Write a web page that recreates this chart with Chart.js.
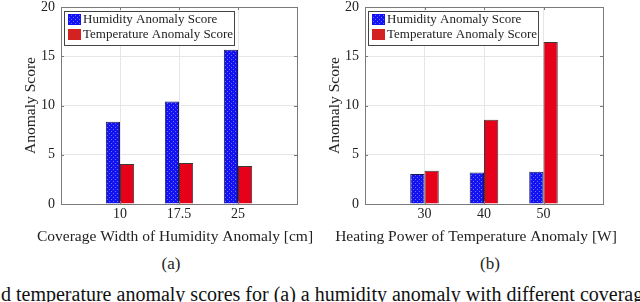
<!DOCTYPE html>
<html>
<head>
<meta charset="utf-8">
<script src="https://cdn.jsdelivr.net/npm/chart.js@4"></script>
<style>
  body { margin: 0; width: 640px; height: 302px; overflow: hidden; background: #fff; position: relative;
         font-family: "Liberation Serif", "Times New Roman", serif; color: #222; }
  canvas { position: absolute; top: 0; }
  #chartA { left: 0; }
  #chartB { left: 320px; }
  .sub { position: absolute; top: 255px; width: 40px; text-align: center; font-size: 17px; line-height: 17px; }
  #caption { position: absolute; left: 1px; top: 284px; font-size: 20px; line-height: 20px; white-space: nowrap; color: #111; }
</style>
</head>
<body>
<canvas id="chartA" width="320" height="250"></canvas>
<canvas id="chartB" width="320" height="250"></canvas>
<div class="sub" style="left:151px">(a)</div>
<div class="sub" style="left:470px">(b)</div>
<div id="caption">d temperature anomaly scores for (a) a humidity anomaly with different coverage</div>
<script>
// (a) humidity anomaly width sweep
const widthLabels = ['10', '17.5', '25'];
const humidityA = [8.35, 10.4, 15.65];
const temperatureA = [4.05, 4.15, 3.85];

// (b) heating power sweep
const powerLabels = ['30', '40', '50'];
const humidityB = [3.05, 3.2, 3.28];
const temperatureB = [3.38, 8.55, 16.45];

const seriesNames = ['Humidity Anomaly Score', 'Temperature Anomaly Score'];

const serif = '"Liberation Serif", "Times New Roman", serif';
Chart.defaults.font.family = serif;
Chart.defaults.color = '#222';

const axisGray = '#7a7a7a';
const gridGray = '#e6e6e6';

function dotPattern(ctx) {
  const c = document.createElement('canvas');
  c.width = 4; c.height = 4;
  const g = c.getContext('2d');
  g.fillStyle = '#1212f2';
  g.fillRect(0, 0, 4, 4);
  g.fillStyle = '#6c6cff';
  g.fillRect(1, 1, 1, 1);
  g.fillRect(3, 3, 1, 1);
  return ctx.createPattern(c, 'repeat');
}

// matlab style box + inward ticks
const boxPlugin = {
  id: 'boxPlugin',
  afterDatasetsDraw(chart) {
    const { ctx, chartArea: a, scales } = chart;
    ctx.save();
    ctx.strokeStyle = axisGray;
    ctx.lineWidth = 1;
    ctx.strokeRect(Math.round(a.left) + 0.5, Math.round(a.top) + 0.5,
                   Math.round(a.right - a.left), Math.round(a.bottom - a.top));
    ctx.beginPath();
    scales.y.ticks.forEach(t => {
      const py = Math.round(scales.y.getPixelForValue(t.value)) + 0.5;
      ctx.moveTo(a.left, py); ctx.lineTo(a.left + 3, py);
      ctx.moveTo(a.right, py); ctx.lineTo(a.right - 3, py);
    });
    scales.x.ticks.forEach((t, i) => {
      if (!chart.data.labels[i]) return;
      const px = Math.round(scales.x.getPixelForValue(i)) + 0.5;
      ctx.moveTo(px, a.bottom); ctx.lineTo(px, a.bottom - 3);
      ctx.moveTo(px, a.top); ctx.lineTo(px, a.top + 3);
    });
    ctx.stroke();
    ctx.restore();
  }
};

// legend inside the axes, top-left
const legendBox = {
  id: 'legendBox',
  afterDraw(chart) {
    const { ctx, chartArea } = chart;
    const x = Math.round(chartArea.left) + 3, y = Math.round(chartArea.top) + 4, w = 170, h = 34;
    ctx.save();
    ctx.fillStyle = '#fff';
    ctx.fillRect(x, y, w, h);
    ctx.strokeStyle = '#444';
    ctx.lineWidth = 1;
    ctx.strokeRect(x + 0.5, y + 0.5, w, h);
    ctx.font = '13px ' + serif;
    ctx.textBaseline = 'middle';
    chart.data.datasets.forEach((ds, i) => {
      const cy = y + 8 + i * 15;
      ctx.fillStyle = i === 0 ? ds.backgroundColor : '#d42222';
      ctx.fillRect(x + 4, cy - 5, 13, 11);
      ctx.fillStyle = '#222';
      ctx.fillText(ds.label, x + 19, cy + 1);
    });
    ctx.restore();
  }
};

// x title drawn by hand: chart.js squeezes titles to the axis width
const xTitlePlugin = {
  id: 'xTitle',
  afterDraw(chart, args, opts) {
    const { ctx, chartArea } = chart;
    ctx.save();
    ctx.font = '15.5px ' + serif;
    ctx.fillStyle = '#222';
    ctx.textAlign = 'center';
    ctx.textBaseline = 'middle';
    ctx.fillText(opts.text, (chartArea.left + chartArea.right) / 2 + opts.shift, 237);
    ctx.restore();
  }
};

function makeChart(id, labels, hum, temp, xTitle, yWidth, padRight, yTitlePad, titleShift) {
  const ctx = document.getElementById(id).getContext('2d');
  const cats = [''].concat(labels, ['']);
  const pad = arr => [null].concat(arr, [null]);
  return new Chart(ctx, {
    type: 'bar',
    data: {
      labels: cats,
      datasets: [
        { label: seriesNames[0], data: pad(hum), backgroundColor: dotPattern(ctx),
          borderColor: '#1a1a50', borderWidth: 1, categoryPercentage: 0.48, barPercentage: 1 },
        { label: seriesNames[1], data: pad(temp), backgroundColor: '#e6001a',
          borderColor: '#3a3a3a', borderWidth: 1, categoryPercentage: 0.48, barPercentage: 1 }
      ]
    },
    options: {
      responsive: false,
      animation: false,
      devicePixelRatio: 1,
      layout: { padding: { top: 0, right: padRight, left: 0, bottom: 0 } },
      plugins: {
        legend: { display: false },
        tooltip: { enabled: false },
        xTitle: { text: xTitle, shift: titleShift }
      },
      scales: {
        x: {
          offset: false,
          grid: { offset: false, color: gridGray, drawTicks: false },
          border: { color: axisGray },
          ticks: { padding: 2, font: { size: 14 }, maxRotation: 0, autoSkip: false },
          afterFit: s => { s.height = 46; s.paddingLeft = 0; s.paddingRight = 0; }
        },
        y: {
          min: 0, max: 20,
          ticks: { stepSize: 5, padding: 6, font: { size: 14, lineHeight: 1 } },
          grid: { color: gridGray, drawTicks: false },
          border: { color: axisGray },
          title: { display: true, text: 'Anomaly Score', font: { size: 15.5 }, padding: { top: yTitlePad, bottom: 0 } },
          afterFit: s => { s.width = yWidth; s.paddingTop = 7; s.paddingBottom = 0; }
        }
      }
    },
    plugins: [boxPlugin, legendBox, xTitlePlugin]
  });
}

makeChart('chartA', widthLabels, humidityA, temperatureA,
  'Coverage Width of Humidity Anomaly [cm]', 61, 23, 22, -4);
makeChart('chartB', powerLabels, humidityB, temperatureB,
  'Heating Power of Temperature Anomaly [W]', 45, 37, 6, -8);
</script>
</body>
</html>
